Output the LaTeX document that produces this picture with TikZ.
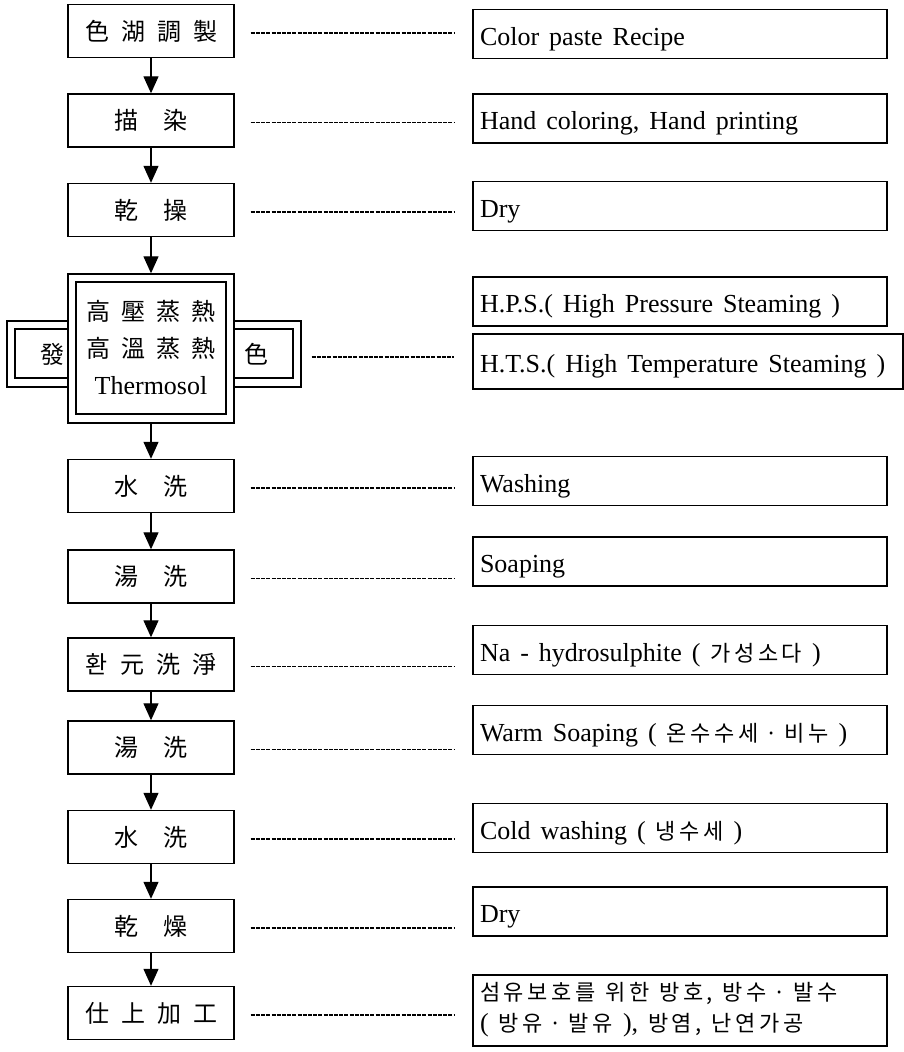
\documentclass[tikz,border=0pt]{standalone}
\usepackage{fontspec}
\setmainfont{Liberation Serif}
\newfontfamily\kr{Noto Sans CJK KR}
\newfontfamily\krw{Noto Sans CJK KR}[LetterSpace=16]
\usetikzlibrary{arrows.meta}
\newcommand\hg[1]{{\krw\fontsize{22}{31}\selectfont #1}}
\begin{document}
\begin{tikzpicture}[x=1pt,y=-1pt,
  lbox/.style={draw, line width=1.4pt, minimum width=166pt, minimum height=53pt, inner sep=0pt, font=\kr\fontsize{24}{28}\selectfont},
  rbox/.style={draw, line width=1.1pt, minimum height=49pt, text width=400pt, inner xsep=7pt, inner ysep=0pt, align=left, text height=26pt, text depth=4pt, font=\fontsize{26}{31}\selectfont, execute at begin node={\spaceskip=10pt plus 2pt\relax}},
  flow/.style={line width=1.3pt, -{Triangle[width=15pt,length=17pt]}},
  dots/.style={line width=1.4pt, dash pattern=on 4pt off 1.2pt},
  frame/.style={draw, line width=1.4pt, inner sep=0pt},
  thin/.style={draw, line width=1.1pt, inner sep=0pt},
]
\useasboundingbox (0,0) rectangle (904,1052);
% wings of the steaming step
\node[frame, minimum width=61pt, minimum height=66pt] (lwo) at (37.5,354) {};
\node[thin, minimum width=53pt, minimum height=49pt] (lwi) at (41.5,353.5) {};
\node[frame, minimum width=67pt, minimum height=66pt] (rwo) at (267.5,354) {};
\node[thin, minimum width=59pt, minimum height=49pt] (rwi) at (263.5,353.5) {};
\node[font=\kr\fontsize{24}{28}\selectfont] (fa) at (52,354) {發};
\node[font=\kr\fontsize{24}{28}\selectfont] (se) at (256,354) {色};
% left process boxes
\node[lbox] (b1) at (151,31) {色\hspace{12pt}湖\hspace{12pt}調\hspace{12pt}製};
\node[lbox] (b2) at (151,120.5) {描\hspace{25pt}染};
\node[lbox] (b3) at (151,210) {乾\hspace{25pt}操};
\node[frame, minimum width=166pt, minimum height=149pt] (big) at (151,348.5) {};
\node[thin, minimum width=150pt, minimum height=132pt, align=center, font=\kr\fontsize{24}{37}\selectfont] (bigin) at (151,348) {高\hspace{11pt}壓\hspace{11pt}蒸\hspace{11pt}熱\\高\hspace{11pt}溫\hspace{11pt}蒸\hspace{11pt}熱\\{\rmfamily\fontsize{26}{37}\selectfont Thermosol}};
\node[lbox] (b5) at (151,486) {水\hspace{25pt}洗};
\node[lbox] (b6) at (151,576.5) {湯\hspace{25pt}洗};
\node[lbox] (b7) at (151,664.5) {환\hspace{12pt}元\hspace{12pt}洗\hspace{12pt}淨};
\node[lbox] (b8) at (151,747.5) {湯\hspace{25pt}洗};
\node[lbox] (b9) at (151,837) {水\hspace{25pt}洗};
\node[lbox] (b10) at (151,926) {乾\hspace{25pt}燥};
\node[lbox] (b11) at (151,1013) {仕\hspace{12pt}上\hspace{12pt}加\hspace{12pt}工};
% right description boxes
\node[rbox] (r1) at (680,34) {Color paste Recipe};
\node[rbox] (r2) at (680,118.5) {Hand coloring, Hand printing};
\node[rbox] (r3) at (680,206) {Dry};
\node[rbox] (r4) at (680,301.5) {H.P.S.( High Pressure Steaming )};
\node[rbox, text width=416pt, minimum height=55pt] (r5) at (688,361.5) {H.T.S.( High Temperature Steaming )};
\node[rbox] (r6) at (680,481) {Washing};
\node[rbox] (r7) at (680,561.5) {Soaping};
\node[rbox] (r8) at (680,650) {Na - hydrosulphite ( \hg{가성소다} )};
\node[rbox] (r9) at (680,730) {Warm Soaping ( \hg{온수수세\hspace{7pt}·\hspace{7pt}비누} )};
\node[rbox] (r10) at (680,828) {Cold washing ( \hg{냉수세} )};
\node[rbox] (r11) at (680,911.5) {Dry};
\node[rbox, minimum height=71pt, text height=24pt, text depth=44pt] (r12) at (680,1010.5) {\hg{섬유보호를 위한 방호, 방수\hspace{7pt}·\hspace{7pt}발수}\\( \hg{방유\hspace{7pt}·\hspace{7pt}발유} ), \hg{방염, 난연가공}};
% flow arrows
\draw[flow] (b1) -- (b2);
\draw[flow] (b2) -- (b3);
\draw[flow] (b3) -- (big);
\draw[flow] (big) -- (b5);
\draw[flow] (b5) -- (b6);
\draw[flow] (b6) -- (b7);
\draw[flow] (b7) -- (b8);
\draw[flow] (b8) -- (b9);
\draw[flow] (b9) -- (b10);
\draw[flow] (b10) -- (b11);
% dotted leaders
\draw[dots] ([xshift=16pt,yshift=-2pt]b1.east) -- ([xshift=-18pt,yshift=-2pt]b1.east -| r1.west);
\draw[dots] ([xshift=16pt,yshift=-2pt]b2.east) -- ([xshift=-18pt,yshift=-2pt]b2.east -| r2.west);
\draw[dots] ([xshift=16pt,yshift=-2pt]b3.east) -- ([xshift=-18pt,yshift=-2pt]b3.east -| r3.west);
\draw[dots] ([xshift=10pt,yshift=-3pt]rwo.east) -- ([xshift=-18pt,yshift=-3pt]rwo.east -| r5.west);
\draw[dots] ([xshift=16pt,yshift=-2pt]b5.east) -- ([xshift=-18pt,yshift=-2pt]b5.east -| r6.west);
\draw[dots] ([xshift=16pt,yshift=-2pt]b6.east) -- ([xshift=-18pt,yshift=-2pt]b6.east -| r7.west);
\draw[dots] ([xshift=16pt,yshift=-2pt]b7.east) -- ([xshift=-18pt,yshift=-2pt]b7.east -| r8.west);
\draw[dots] ([xshift=16pt,yshift=-2pt]b8.east) -- ([xshift=-18pt,yshift=-2pt]b8.east -| r9.west);
\draw[dots] ([xshift=16pt,yshift=-2pt]b9.east) -- ([xshift=-18pt,yshift=-2pt]b9.east -| r10.west);
\draw[dots] ([xshift=16pt,yshift=-2pt]b10.east) -- ([xshift=-18pt,yshift=-2pt]b10.east -| r11.west);
\draw[dots] ([xshift=16pt,yshift=-2pt]b11.east) -- ([xshift=-18pt,yshift=-2pt]b11.east -| r12.west);
\end{tikzpicture}
\end{document}
